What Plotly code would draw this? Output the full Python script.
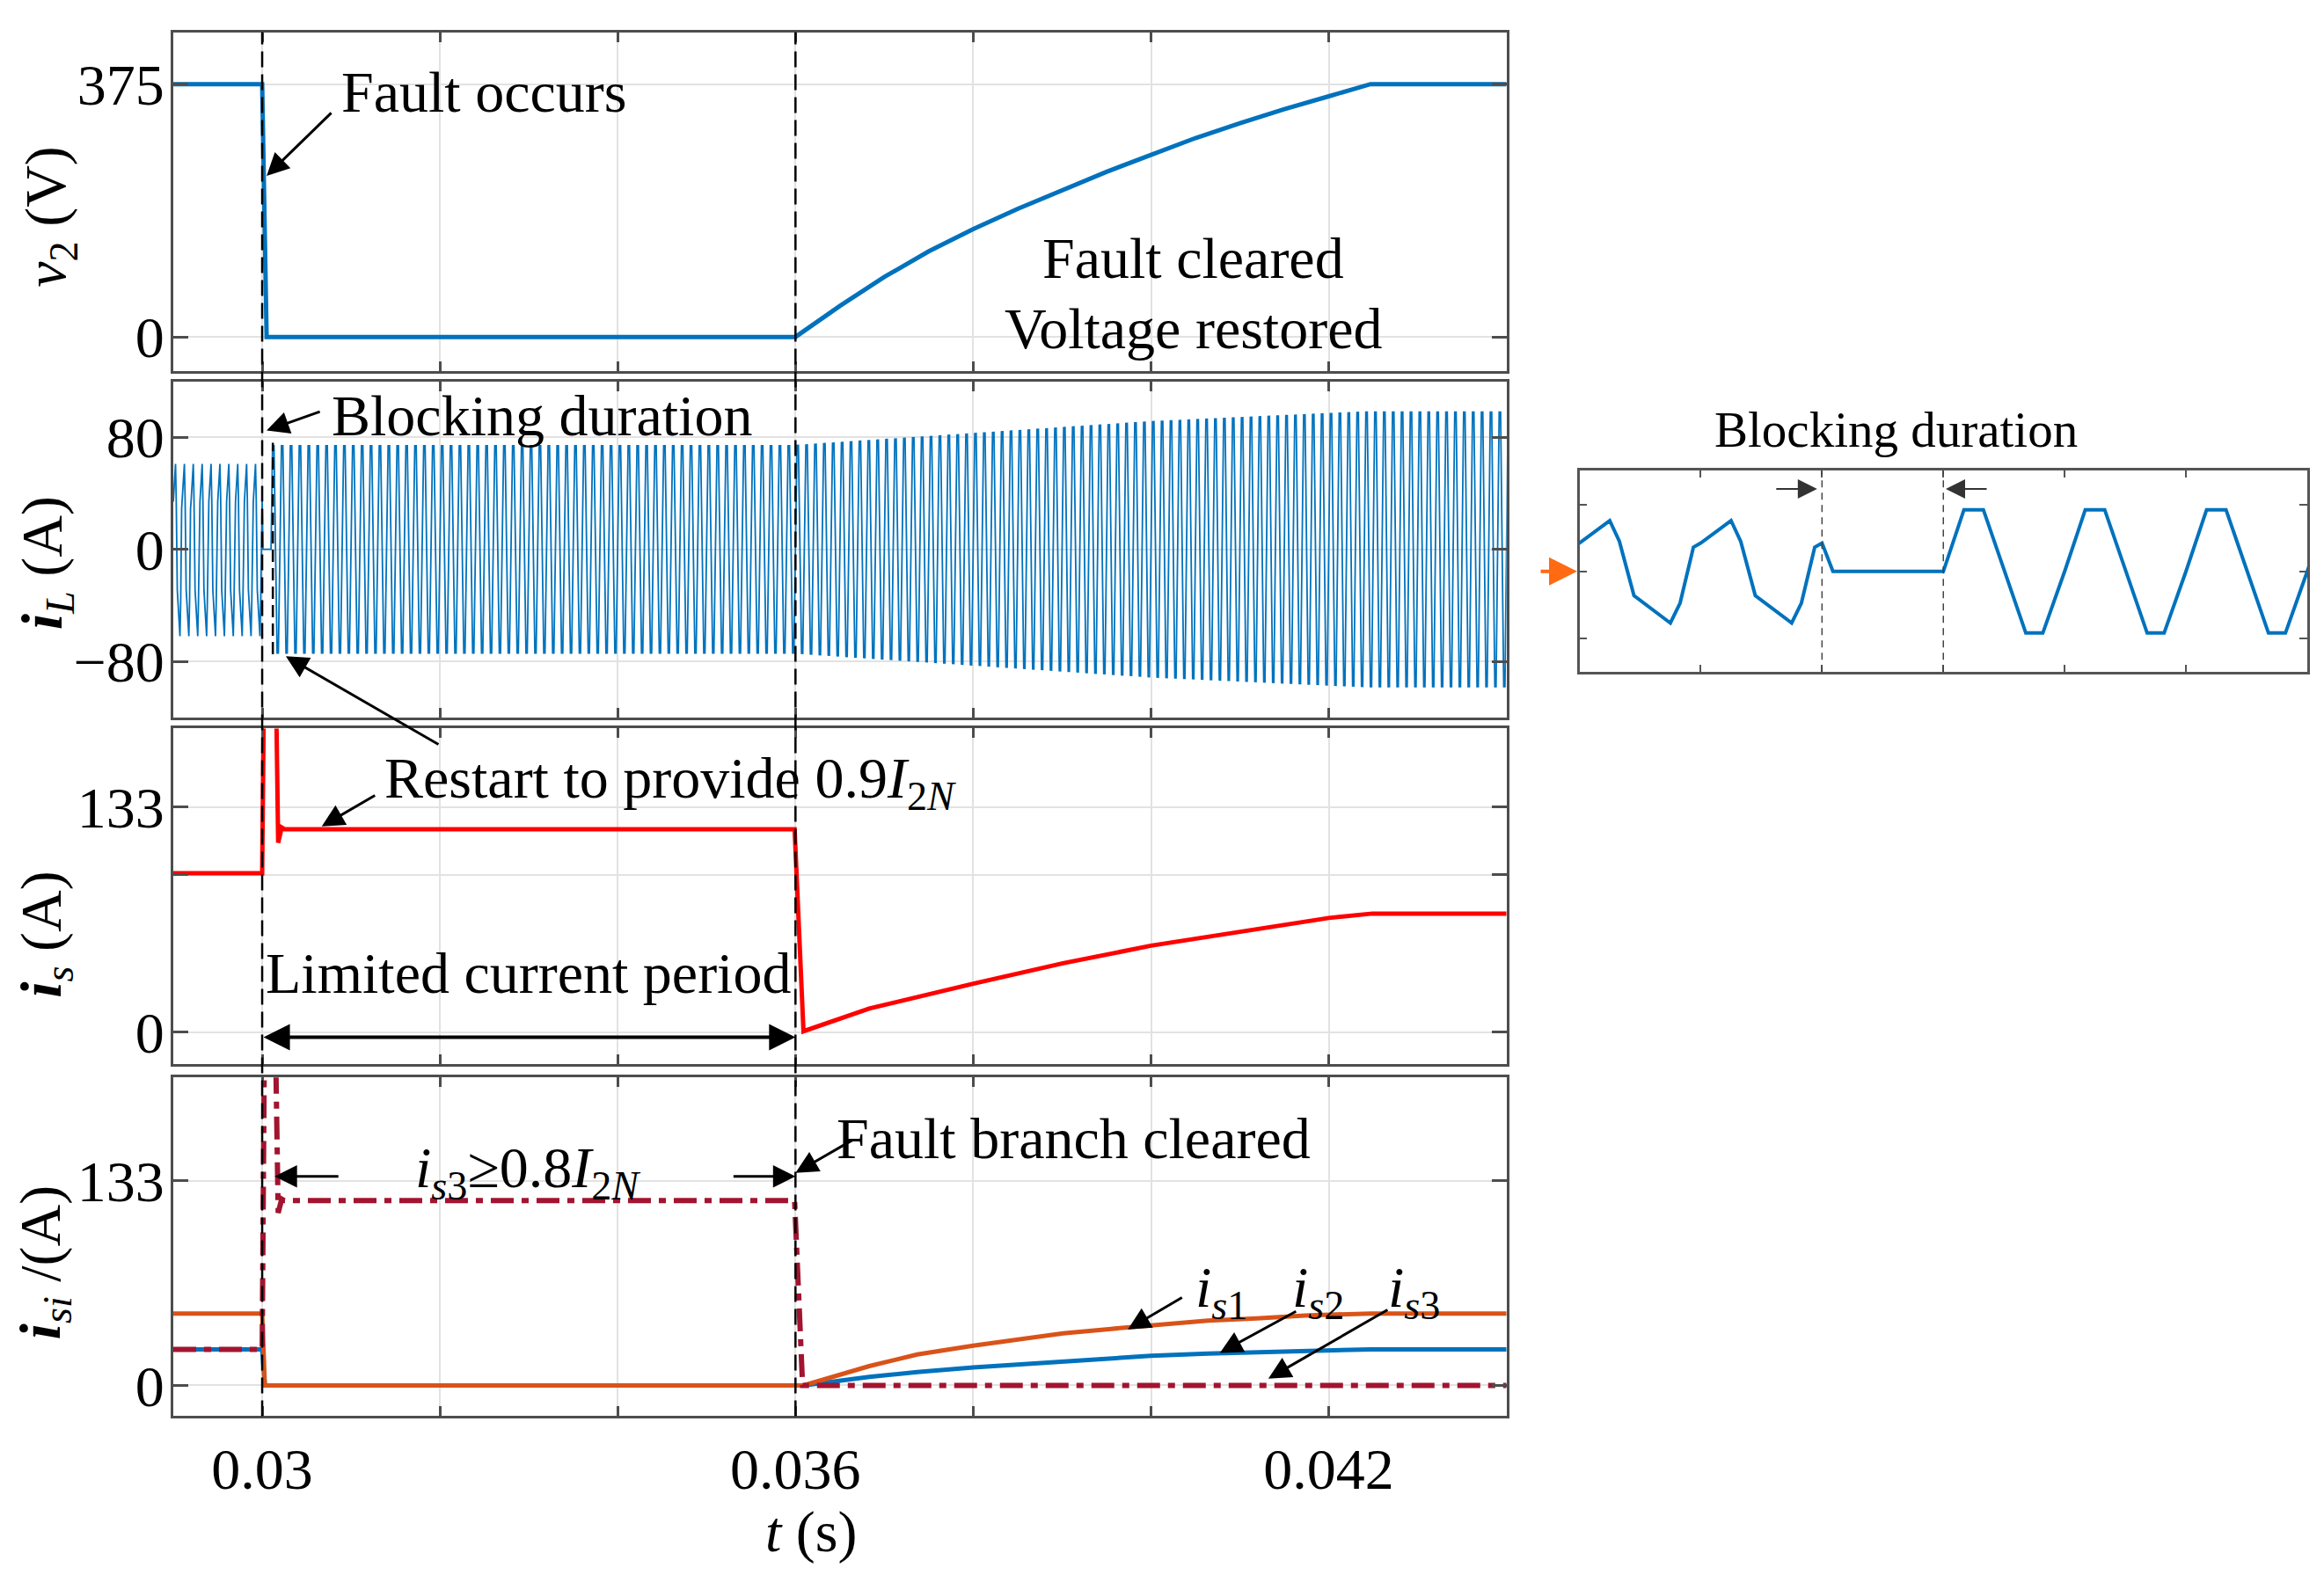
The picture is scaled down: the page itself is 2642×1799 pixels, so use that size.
import numpy as np
import plotly.graph_objects as go

W, H = 2642, 1799
SERIF = "Liberation Serif"
BLUE = "#0072BD"
RED = "#FF0000"
ORANGE = "#D95319"
WINE = "#A2142F"
GRID = "#e2e2e2"
FRAME = "#4d4d4d"

# ---------------- data ----------------
T_RANGE = [0.029, 0.044]
X_TICKS = [0.030, 0.032, 0.034, 0.036, 0.038, 0.040, 0.042]
X_TICK_TEXT = ["0.03", "", "", "0.036", "", "", "0.042"]

FAULT_T = 0.030
RESTART_T = 0.0301
CLEAR_T = 0.036
BLOCK_MARK_T = 0.03012

# v2 (V)
V2_T = [0.029, 0.030, 0.03005, 0.036, 0.0365, 0.037, 0.0375, 0.038, 0.0385, 0.039,
        0.0395, 0.040, 0.0405, 0.041, 0.0415, 0.042, 0.04247, 0.044]
V2_V = [375, 375, 0, 0, 46, 89, 127, 160, 190, 218, 245, 270, 295, 317, 338, 357, 375, 375]

# iL (A): one switching period of the pre-fault waveform and of the restarted waveform
SWITCH_PERIOD = 1e-4
IL_PRE_PHASE = [0.00, 0.25, 0.33, 0.45, 0.75, 0.83, 0.94]
IL_PRE_VALUE = [34, 61, 36, -29, -62, -38, 29]
IL_POST_PHASE = [0.00, 0.17, 0.33, 0.68, 0.82]
IL_POST_SHAPE = [0, 1, 1, -1, -1]
ENV_T = [0.0301, 0.036, 0.038, 0.040, 0.042, 0.04245, 0.044]
ENV_A = [74, 74, 82.5, 91, 96.8, 98, 98]

# is (A)
IS_T = [0.029, 0.030, 0.03003, 0.03014, 0.03018, 0.03022, 0.03025, 0.03599, 0.03609,
        0.03683, 0.038, 0.03901, 0.040, 0.04119, 0.042, 0.04249, 0.044]
IS_V = [94, 94, 260, 260, 112, 121, 120, 120, 0.5, 13.9, 28.6, 40.7, 51.1, 60.6, 67.5, 70.1, 70.1]

# isi (A)
ISB_T = [0.029, 0.030, 0.03003, 0.03609, 0.03683, 0.03737, 0.038, 0.03846, 0.03901,
         0.03955, 0.040, 0.04064, 0.04119, 0.04173, 0.04247, 0.044]
IS1_V = [46.7, 46.7, 0, 0, 12.5, 20.1, 25.8, 29.6, 33.8, 36.7, 38.6, 42.0, 43.5, 45.4, 46.7, 46.7]
IS2_V = [23.4, 23.4, 0, 0, 5.5, 8.7, 11.6, 13.5, 15.8, 17.7, 19.2, 20.7, 21.7, 22.6, 23.4, 23.4]
IS3_T = [0.029, 0.030, 0.03003, 0.03014, 0.03018, 0.03022, 0.03025, 0.03599, 0.03608, 0.044]
IS3_V = [23.4, 23.4, 260, 260, 112, 121, 120, 120, 0, 0]

INSET_RANGE = [0.0298, 0.0304]
INSET_TICKS = [0.0299, 0.0300, 0.0301, 0.0302, 0.0303]


def build_il():
    t, v = [], []
    n_pre = int(round((FAULT_T - T_RANGE[0]) / SWITCH_PERIOD))
    for k in range(n_pre):
        t0 = T_RANGE[0] + k * SWITCH_PERIOD
        for ph, val in zip(IL_PRE_PHASE, IL_PRE_VALUE):
            t.append(t0 + ph * SWITCH_PERIOD)
            v.append(val)
    t += [FAULT_T, FAULT_T + 0.09 * SWITCH_PERIOD]
    v += [IL_PRE_VALUE[0], 0]
    n_post = int(np.ceil((T_RANGE[1] - RESTART_T) / SWITCH_PERIOD)) + 1
    for k in range(n_post):
        t0 = RESTART_T + k * SWITCH_PERIOD
        for ph, s in zip(IL_POST_PHASE, IL_POST_SHAPE):
            tt = t0 + ph * SWITCH_PERIOD
            t.append(tt)
            v.append(s * float(np.interp(tt, ENV_T, ENV_A)))
    return t, v


IL_T, IL_V = build_il()


# ---------------- geometry helpers ----------------
def px(x):
    return x / W


def py(y):
    return 1 - y / H


X_DOM = [px(197), px(1712.7)]
P_DOM = {
    1: [py(422.7), py(36.7)],
    2: [py(816.7), py(434)],
    3: [py(1211.7), py(829.3)],
    4: [py(1612.2), py(1226.6)],
}
INSET_X_DOM = [px(1795.5), px(2623)]
INSET_Y_DOM = [py(765), py(536)]

TICKFONT = dict(family=SERIF, size=66, color="black")

fig = go.Figure()

fig.add_trace(go.Scatter(x=V2_T, y=V2_V, mode="lines", line=dict(color=BLUE, width=5),
                         xaxis="x", yaxis="y", showlegend=False))
fig.add_trace(go.Scatter(x=IL_T, y=IL_V, mode="lines", line=dict(color=BLUE, width=1.8),
                         xaxis="x2", yaxis="y2", showlegend=False))
fig.add_trace(go.Scatter(x=IS_T, y=IS_V, mode="lines", line=dict(color=RED, width=5),
                         xaxis="x3", yaxis="y3", showlegend=False))
fig.add_trace(go.Scatter(x=ISB_T, y=IS2_V, mode="lines", line=dict(color=BLUE, width=5),
                         xaxis="x4", yaxis="y4", showlegend=False))
fig.add_trace(go.Scatter(x=ISB_T, y=IS1_V, mode="lines", line=dict(color=ORANGE, width=5),
                         xaxis="x4", yaxis="y4", showlegend=False))
fig.add_trace(go.Scatter(x=IS3_T, y=IS3_V, mode="lines",
                         line=dict(color=WINE, width=6, dash="26px,9px,8px,9px"),
                         xaxis="x4", yaxis="y4", showlegend=False))
# inset: zoom of iL around the blocking interval
fig.add_trace(go.Scatter(x=IL_T, y=IL_V, mode="lines", line=dict(color=BLUE, width=4),
                         xaxis="x5", yaxis="y5", showlegend=False))


def xax(i, labels):
    d = dict(domain=X_DOM, range=T_RANGE, anchor="y" if i == 1 else f"y{i}",
             tickvals=X_TICKS, ticktext=X_TICK_TEXT, showticklabels=labels,
             showgrid=True, gridcolor=GRID, gridwidth=2, zeroline=False,
             showline=True, linecolor=FRAME, linewidth=3, mirror="ticks",
             ticks="inside", ticklen=11, tickwidth=2.5, tickcolor=FRAME, tickfont=TICKFONT)
    if i != 1:
        d["matches"] = "x"
    return d


def yax(i, rng, tv, tt):
    return dict(domain=P_DOM[i], range=rng, anchor="x" if i == 1 else f"x{i}",
                tickvals=tv, ticktext=tt, showgrid=True, gridcolor=GRID, gridwidth=2,
                zeroline=False, showline=True, linecolor=FRAME, linewidth=3, mirror="ticks",
                ticks="inside", ticklen=17, tickwidth=2.5, tickcolor=FRAME, tickfont=TICKFONT,
                ticklabelstandoff=-6)


layout = dict(
    width=W, height=H, margin=dict(l=0, r=0, t=0, b=0),
    paper_bgcolor="white", plot_bgcolor="white", showlegend=False,
    xaxis=xax(1, False), xaxis2=xax(2, False), xaxis3=xax(3, False), xaxis4=xax(4, True),
    yaxis=yax(1, [-51, 452], [0, 375], ["0", "375"]),
    yaxis2=yax(2, [-120, 120], [-80, 0, 80], ["\u221280", "0", "80"]),
    yaxis3=yax(3, [-19.1, 179.6], [0, 93.1, 133], ["0", "", "133"]),
    yaxis4=yax(4, [-20, 200], [0, 133], ["0", "133"]),
    xaxis5=dict(domain=INSET_X_DOM, range=INSET_RANGE, anchor="y5", tickvals=INSET_TICKS,
                showticklabels=False, showgrid=False, zeroline=False, showline=True,
                linecolor="#555555", linewidth=2.5, mirror="ticks", ticks="inside",
                ticklen=8, tickwidth=2, tickcolor="#555555"),
    yaxis5=dict(domain=INSET_Y_DOM, range=[-120.8, 120.8], anchor="x5", tickvals=[-80, 0, 80],
                showticklabels=False, showgrid=False, zeroline=False, showline=True,
                linecolor="#555555", linewidth=2.5, mirror="ticks", ticks="inside",
                ticklen=9, tickwidth=2, tickcolor="#555555"),
)
fig.update_layout(**layout)

# ---------------- shapes ----------------
shapes = []
for tx in (FAULT_T, CLEAR_T):
    shapes.append(dict(type="line", xref="x", yref="paper", x0=tx, x1=tx,
                       y0=P_DOM[4][0], y1=P_DOM[1][1], layer="above",
                       line=dict(color="black", width=2.5, dash="18px,8px")))
shapes.append(dict(type="line", xref="x2", yref="y2", x0=BLOCK_MARK_T, x1=BLOCK_MARK_T,
                   y0=-75, y1=76, layer="above",
                   line=dict(color="black", width=2.5, dash="14px,7px")))
for tx in (FAULT_T, RESTART_T):
    shapes.append(dict(type="line", xref="x5", yref="y5", x0=tx, x1=tx, y0=-120.8, y1=120.8,
                       layer="above", line=dict(color="#444444", width=1.5, dash="8px,6px")))
fig.update_layout(shapes=shapes)

# ---------------- annotations ----------------
ann = []


def text(t, x, y, xanchor="left", size=66, xref="paper", yref="paper", angle=0):
    ann.append(dict(text=t, x=x, y=y, xref=xref, yref=yref, xanchor=xanchor, yanchor="middle",
                    showarrow=False, textangle=angle,
                    font=dict(family=SERIF, size=size, color="black")))


def arrow(x, y, xref, yref, ax, ay, width=3, size=1.7, color="black", side="end",
          axref="pixel", ayref="pixel"):
    ann.append(dict(text="", x=x, y=y, xref=xref, yref=yref, ax=ax, ay=ay,
                    axref=axref, ayref=ayref, showarrow=True, arrowhead=2,
                    arrowsize=size, arrowwidth=width, arrowcolor=color, arrowside=side,
                    startarrowhead=2, startarrowsize=size, standoff=0, startstandoff=0,
                    font=dict(size=1)))


# panel texts
text("Fault occurs", px(386), py(105))
text("Fault cleared", px(1356.5), py(294), "center")
text("Voltage restored", px(1357), py(374), "center")
text("Blocking duration", px(375), py(473.5))
text("Restart to provide 0.9<i>I</i><sub>2<i>N</i></sub>", px(435), py(890))
text("Limited current period", px(300), py(1107.6))
text("Fault branch cleared", px(948.6), py(1296))
text("<i>i</i><sub><i>s</i>3</sub>\u22650.8<i>I</i><sub>2<i>N</i></sub>", px(470), py(1334))
text("<i>i</i><sub><i>s</i>1</sub>", px(1357), py(1470))
text("<i>i</i><sub><i>s</i>2</sub>", px(1467), py(1470))
text("<i>i</i><sub><i>s</i>3</sub>", px(1575.6), py(1470))
text("<i>t</i> (s)", px(922), py(1744), "center")
text("Blocking duration", px(2155), py(488.6), "center", size=57)

# y-axis titles
text("<i>v</i><sub>2</sub> (V)", px(57), py(247), "center", angle=-90)
text("<b><i>i</i></b><sub><i>L</i></sub> (A)", px(52), py(641), "center", angle=-90)
text("<b><i>i</i></b><sub><i>s</i></sub> (A)", px(52), py(1064), "center", angle=-90)
text("<b><i>i</i></b><sub><i>si</i></sub> /(A)", px(50), py(1437), "center", angle=-90)

# arrows
arrow(0.03005, 239, "x", "y", 75, -73)
arrow(0.03005, 84.8, "x2", "y2", 62, -22)
arrow(0.030266, -76.4, "x2", "y2", 175, 101)
arrow(0.03067, 121.7, "x3", "y3", 62, -36)
arrow(CLEAR_T, -3.1, "x3", "y3", FAULT_T, -3.1, width=4, size=1.5, side="end+start",
      axref="x3", ayref="y3")
arrow(0.03014, 135.7, "x4", "y4", 74, 0)
arrow(CLEAR_T, 135.7, "x4", "y4", -72, 0)
arrow(CLEAR_T, 138, "x4", "y4", 66, -38)
arrow(0.03974, 36.4, "x4", "y4", 63, -37)
arrow(0.040775, 21.1, "x4", "y4", 88, -48)
arrow(0.04132, 4.4, "x4", "y4", 137, -79)

# inset arrows
arrow(0.029996, 99, "x5", "y5", -48, 0, width=2, size=2.2, color="#333333")
arrow(0.030102, 99, "x5", "y5", 48, 0, width=2, size=2.2, color="#333333")
arrow(px(1793), 0, "paper", "y5", -43, 0, width=4, size=1.6, color="#FF6A13")

fig.update_layout(annotations=ann)

fig.write_html("out.html", config={"displayModeBar": False},
               post_script="document.body.style.margin='0';")
